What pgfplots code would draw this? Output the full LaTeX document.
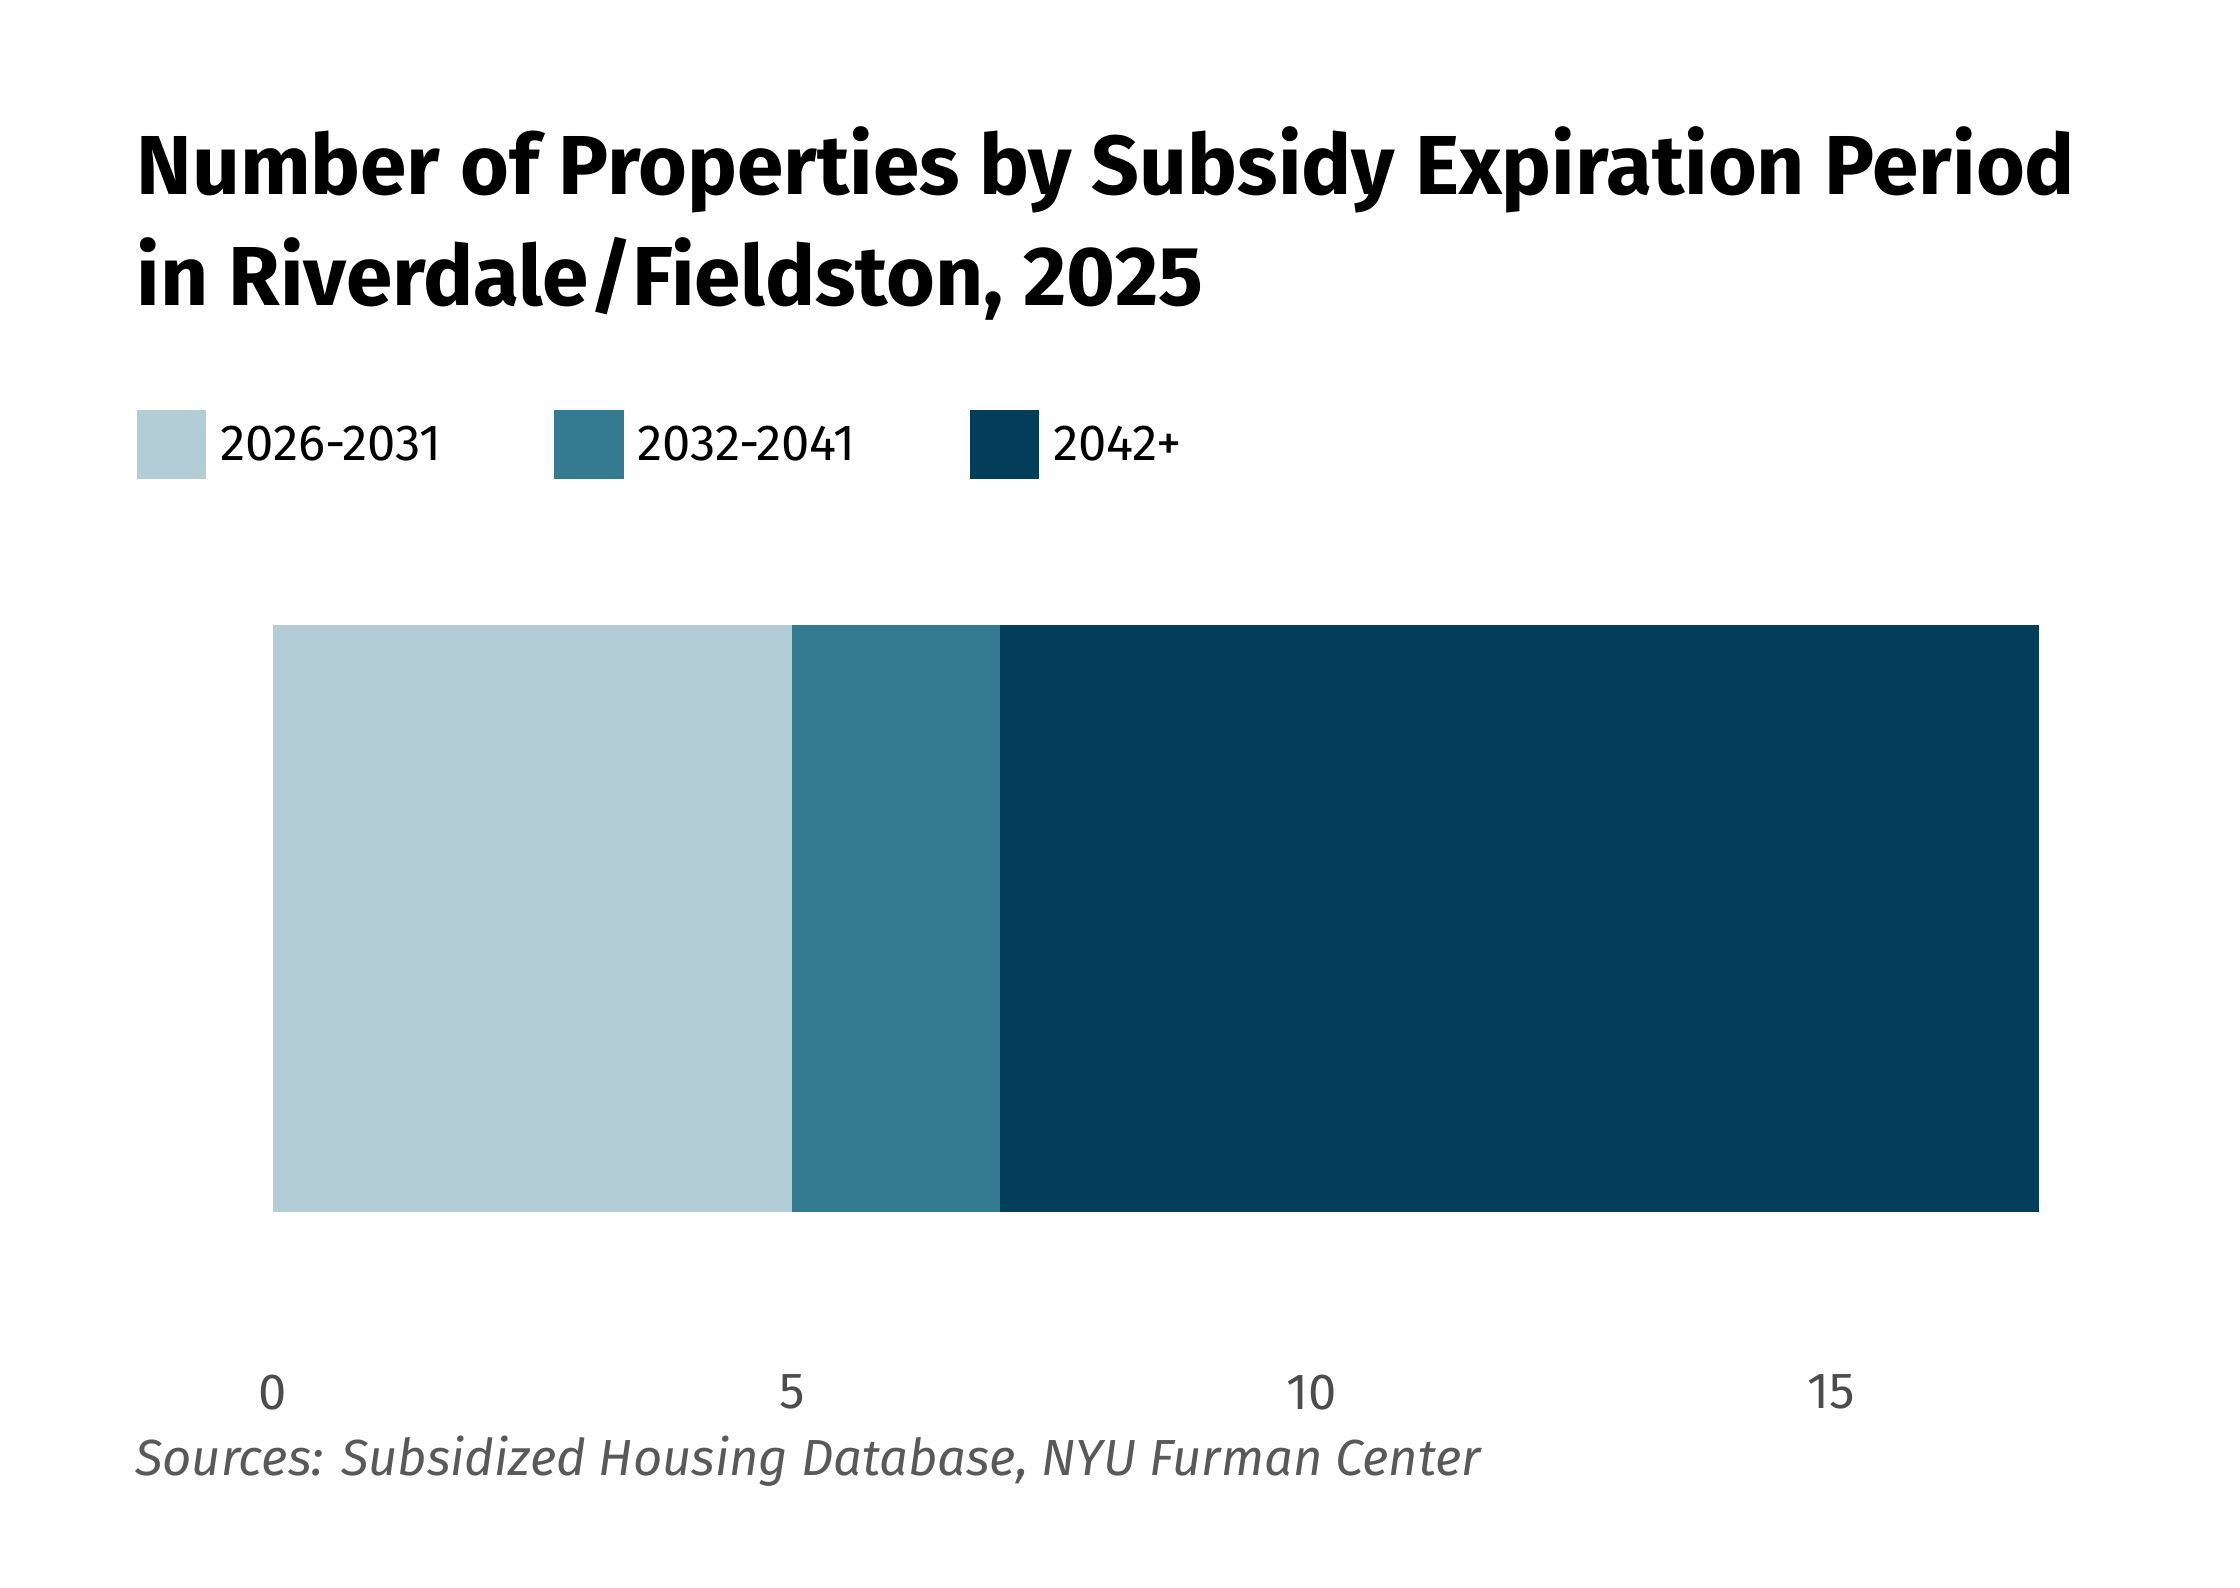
\documentclass[border=0pt]{standalone}
\usepackage{pgfplots}
\pgfplotsset{compat=1.18}
\usepackage{fontspec}
\setmainfont{Fira Sans}
\definecolor{c1}{HTML}{B3CDD6}
\definecolor{c2}{HTML}{347A91}
\definecolor{c3}{HTML}{023E5A}
\begin{document}
\begin{tikzpicture}[x=0.1mm,y=-0.1mm]
\path (0,0) rectangle (1552,1100);
\node[anchor=base west,font=\fontsize{16.5}{18}\selectfont\bfseries,inner sep=0] at (94,135) {Number of Properties by Subsidy Expiration Period};
\node[anchor=base west,font=\fontsize{16.5}{18}\selectfont\bfseries,inner sep=0] at (94,212) {in Riverdale/Fieldston, 2025};
\fill[c1] (95,284) rectangle (143,332);
\fill[c2] (384,284) rectangle (432,332);
\fill[c3] (672,284) rectangle (720,332);
\node[anchor=base west,font=\fontsize{10}{12}\selectfont,inner sep=0] at (152,319) {2026-2031};
\node[anchor=base west,font=\fontsize{10}{12}\selectfont,inner sep=0] at (441,319) {2032-2041};
\node[anchor=base west,font=\fontsize{10}{12}\selectfont,inner sep=0] at (729,319) {2042+};
\begin{axis}[at={(18.9mm,-84mm)},anchor=south west,scale only axis,
 width=122.4mm,height=40.7mm,xbar stacked,bar width=40.7mm,
 xmin=0,xmax=17,ymin=-0.5,ymax=0.5,axis line style={draw=none},
 ytick=\empty,xtick={0,5,10,15},major tick length=0pt,
 xticklabel style={yshift=-10mm,font=\fontsize{10}{12}\selectfont,text=black!70},
 /pgf/number format/assume math mode=true]
\addplot[fill=c1,draw=none] coordinates {(5,0)};
\addplot[fill=c2,draw=none] coordinates {(2,0)};
\addplot[fill=c3,draw=none] coordinates {(10,0)};
\end{axis}
\node[anchor=base west,font=\fontsize{10}{12}\selectfont\itshape,text=black!65,inner sep=0] at (93,1022) {Sources: Subsidized Housing Database, NYU Furman Center};
\end{tikzpicture}
\end{document}
